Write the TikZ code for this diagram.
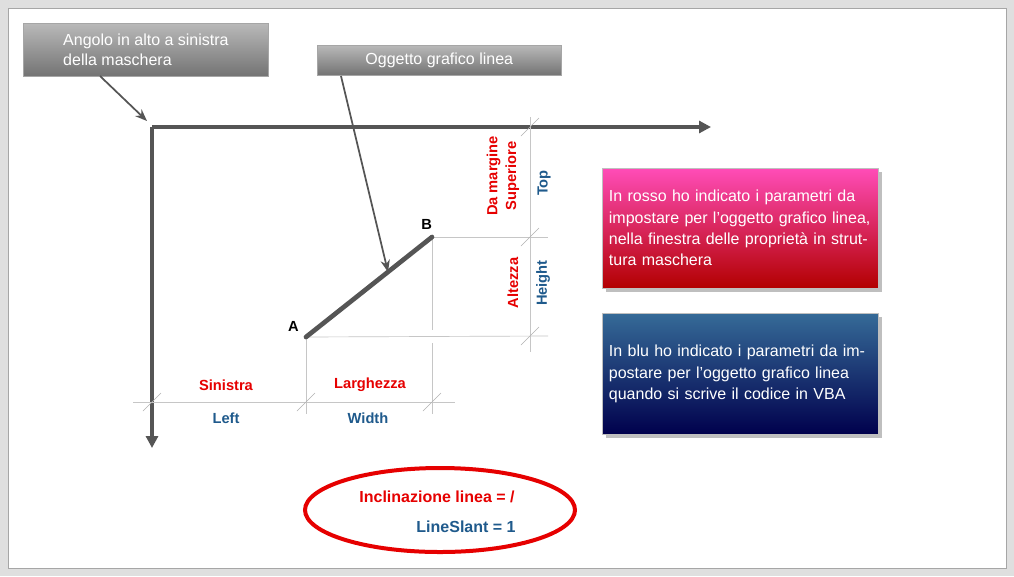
\documentclass[tikz,border=0pt]{standalone}
\usepackage{fontspec}
\setmainfont{Liberation Sans}
\usepackage{tikz}
\usetikzlibrary{positioning,arrows.meta,shadows}

\definecolor{dimred}{RGB}{230,0,0}
\definecolor{dimblue}{RGB}{31,90,140}
\definecolor{axisgray}{RGB}{85,85,85}

\tikzset{
	callout/.style={draw=gray!70,top color=gray!55,bottom color=gray!90!black,text=white,
		align=left,anchor=north west,inner sep=4pt,font=\fontsize{12}{15}\selectfont},
	infobox/.style={draw=gray!50,text=white,align=left,anchor=north west,text width=197pt,
		inner sep=5pt,font=\fontsize{12}{16}\selectfont,drop shadow},
	dim/.style={draw=gray!45,line width=0.5pt},
	tick/.style={draw=gray!60,line width=0.5pt},
	redlbl/.style={text=dimred,font=\bfseries\fontsize{11}{13}\selectfont},
	bluelbl/.style={text=dimblue,font=\bfseries\fontsize{11}{13}\selectfont},
	pointer/.style={draw=axisgray,line width=1.3pt,-{Stealth[length=9pt,width=7pt]}}
}

\begin{document}
\begin{tikzpicture}[x=0.75pt,y=-0.75pt]
	\useasboundingbox (0,0) rectangle (1014,576);
	\fill[gray!25] (0,0) rectangle (1014,576);
	\fill[white,draw=gray!70] (8,8) rectangle (1006,568);

	% callouts
	\node[callout,minimum width=184pt,minimum height=40pt] (corner) at (23,23)
		{Angolo in alto a sinistra\\della maschera};
	\node[callout,minimum width=183pt,minimum height=22.5pt] (lineobj) at (317,45)
		{Oggetto grafico linea};

	% axes
	\coordinate (O) at (152,127);
	\coordinate (xend) at (711,127);
	\coordinate (yend) at (152,448);
	\draw[axisgray,line width=3pt,-{Triangle[length=9pt,width=9pt]}] (O) -- (xend);
	\draw[axisgray,line width=3pt,-{Triangle[length=9pt,width=9pt]}] (O) -- (yend);

	% line object
	\coordinate (A) at (306,337);
	\coordinate (B) at (432,237);
	\node[font=\bfseries\fontsize{11}{13}\selectfont,left=2pt of A,yshift=8pt] (lblA) {A};
	\node[font=\bfseries\fontsize{11}{13}\selectfont,above=2pt of B,xshift=-4pt] (lblB) {B};

	% dimension lines
	\coordinate (bh) at (548,237);
	\coordinate (ah) at (548,336);
	\coordinate (topv) at (530,117);
	\coordinate (botv) at (530,352);
	\coordinate (hl) at (133,402);
	\coordinate (hr) at (455,402);
	\draw[dim] (B) -- (bh);
	\draw[dim] (A) -- (ah);
	\draw[dim] (topv) -- (botv);
	\draw[dim] (hl) -- (hr);
	\draw[dim] (A) -- (306,414);
	\draw[dim] (B) -- (432,330);
	\draw[dim] (432,343) -- (432,414);
	\foreach \p in {(530,127),(530,237),(530,336),(152,402),(306,402),(432,402)}
		\draw[tick] \p ++(-9,9) -- ++(18,-18);

	\draw[axisgray,line width=3.5pt,line cap=round] (A) -- (B);

	% callout pointers
	\coordinate (c1) at (100,76);
	\coordinate (c2) at (341,76);
	\draw[pointer] (c1) -- (147,121);
	\draw[pointer] (c2) -- (388,272);

	% dimension labels
	\node[redlbl] (sinistra) at (226,385) {Sinistra};
	\node[bluelbl] (left) at (226,418) {Left};
	\node[redlbl] (larghezza) at (370,385) {Larghezza};
	\node[bluelbl] (width) at (368,418) {Width};
	\node[redlbl,rotate=90,align=center,font=\bfseries\fontsize{11}{14}\selectfont] (damargine) at (503,176) {Da margine\\Superiore};
	\node[bluelbl,rotate=90] (top) at (544,183) {Top};
	\node[redlbl,rotate=90] (altezza) at (513,283) {Altezza};
	\node[bluelbl,rotate=90] (height) at (543,283) {Height};

	% info boxes
	\node[infobox,top color=magenta!60!red!70,bottom color=red!70!black,minimum height=90pt] (redbox) at (602,168)
		{In rosso ho indicato i parametri da impostare per l’oggetto grafico linea, nella finestra delle proprietà in struttura maschera};
	\node[infobox,top color=dimblue!90,bottom color=blue!30!black,minimum height=91pt] (bluebox) at (602,313)
		{In blu ho indicato i parametri da impostare per l’oggetto grafico linea quando si scrive il codice in VBA};

	% slant ellipse
	\draw[dimred,line width=3pt] (440,510) ellipse (135 and 42);
	\node[redlbl,font=\bfseries\fontsize{12}{14}\selectfont] (incl) at (437,497) {Inclinazione linea = /};
	\node[bluelbl,font=\bfseries\fontsize{12}{14}\selectfont] (slant) at (466,527) {LineSlant = 1};
\end{tikzpicture}
\end{document}
